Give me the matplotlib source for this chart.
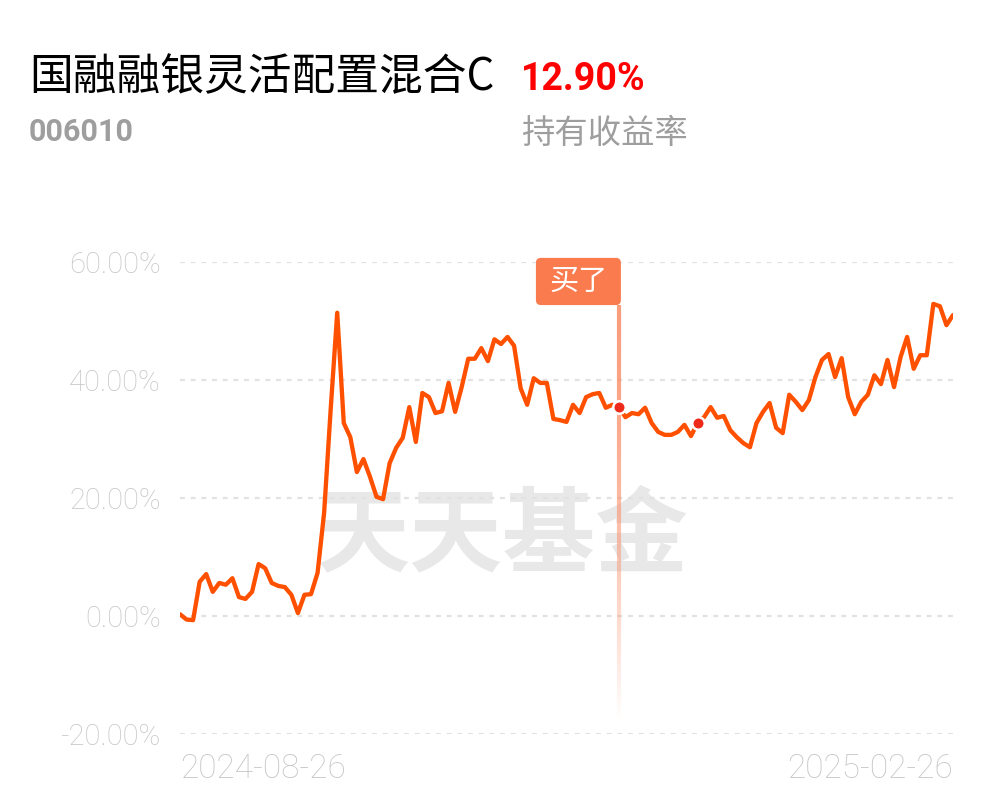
import numpy as np
import matplotlib
matplotlib.use("Agg")
import matplotlib.pyplot as plt
from matplotlib.patches import FancyBboxPatch
from matplotlib.collections import LineCollection
from matplotlib.transforms import IdentityTransform

plt.rcParams['font.family'] = ['Noto Sans CJK SC', 'DejaVu Sans']

fund_name = "国融融银灵活配置混合C"
fund_code = "006010"
hold_return = "12.90%"
hold_label = "持有收益率"
buy_label = "买了"
watermark = "天天基金"
date_labels = ["2024-08-26", "2025-02-26"]
ytick_vals = [-20, 0, 20, 40, 60]
ytick_labels = ["-20.00%", "0.00%", "20.00%", "40.00%", "60.00%"]

# 累计收益率 (%)
returns = [0.3, -0.6, -0.7, 5.8, 7.1, 4.1, 5.6, 5.3, 6.4, 3.2,
           2.9, 4.1, 8.8, 8.1, 5.6, 5.1, 4.9, 3.6, 0.5, 3.6,
           3.7, 7.3, 17.5, 35.0, 51.4, 32.7, 30.3, 24.4, 26.6, 23.6,
           20.2, 19.8, 25.9, 28.5, 30.2, 35.4, 29.5, 37.8, 37.1, 34.4,
           34.7, 39.5, 34.6, 38.8, 43.6, 43.6, 45.4, 43.2, 46.9, 46.1,
           47.3, 45.8, 38.6, 35.8, 40.3, 39.5, 39.5, 33.4, 33.2, 32.9,
           35.8, 34.4, 37.1, 37.6, 37.8, 35.3, 35.8, 35.4, 33.7, 34.4,
           34.2, 35.3, 32.7, 31.2, 30.7, 30.7, 31.2, 32.4, 30.5, 32.7,
           33.7, 35.4, 33.6, 33.9, 31.5, 30.3, 29.3, 28.6, 32.7, 34.6,
           36.1, 31.9, 31.0, 37.5, 36.3, 34.9, 36.6, 40.5, 43.4, 44.4,
           40.5, 43.7, 37.1, 34.2, 36.3, 37.5, 40.8, 39.3, 43.4, 38.8,
           43.9, 47.3, 41.9, 44.2, 44.2, 52.9, 52.5, 49.3, 51.0]
buy_points = [67, 79]

x = np.arange(len(returns))
y = np.array(returns)

W, H = 997, 802
fig = plt.figure(figsize=(W / 100, H / 100), dpi=100)
fig.set(facecolor="white")
ax = fig.add_axes([180 / W, 68 / H, 773 / W, 472 / H])

# 水印
ax.text(0.417, 0.418, watermark, transform=ax.transAxes, fontsize=67,
        fontweight="bold", color="#E8E8E8", ha="center", va="center", zorder=0.5)

for v in ytick_vals:
    ax.axhline(v, color="#E2E2E2", lw=1.6, ls=(0, (2.2, 2.6)), zorder=1)

ax.plot(x, y, color="#FF5000", lw=3.1, solid_joinstyle="round",
        solid_capstyle="round", zorder=3)

ax.set_xlim(0, len(returns) - 1)
ax.set_ylim(-20, 60)

# 买入竖线 (渐隐)
bi = buy_points[0]
y_top, y_bot = 52.7, -18.0
ys = np.linspace(y_top, y_bot, 100)
segs = [[(bi, ys[i]), (bi, ys[i + 1])] for i in range(len(ys) - 1)]
t = np.linspace(0, 1, len(segs))
alphas = np.clip(1 - t ** 1.6, 0, 1) * 0.85
cols = [(0.98, 0.55, 0.40, a) for a in alphas]
ax.add_collection(LineCollection(segs, colors=cols, linewidths=3.0, zorder=2))

ax.plot(x[buy_points], y[buy_points], "o", ms=9, mfc="#EE2A1A", mec="white",
        mew=1.8, zorder=4)

# 标签框
fig.canvas.draw()
px, py_top = ax.transData.transform((bi, 60.7))
_, py_bot = ax.transData.transform((bi, 52.7))
box = FancyBboxPatch((px - 83, py_bot), 85, py_top - py_bot,
                     boxstyle="round,pad=0,rounding_size=5",
                     transform=IdentityTransform(), facecolor="#FA7B4E",
                     edgecolor="none", zorder=5)
fig.add_artist(box)
fig.text(px - 40.5, (py_top + py_bot) / 2, buy_label, transform=IdentityTransform(),
         fontsize=21, color="white", ha="center", va="center", zorder=6)

ax.set_yticks(ytick_vals)
ax.set_yticklabels(ytick_labels, family=["Roboto", "DejaVu Sans"],
                   fontweight="light", fontsize=21, color="#C6C6C6")
ax.set_xticks([0, len(returns) - 1])
ax.set_xticklabels(date_labels, family=["Roboto", "DejaVu Sans"],
                   fontweight="light", fontsize=24, color="#C6C6C6")
xl = ax.get_xticklabels()
xl[0].set_ha("left")
xl[1].set_ha("right")
ax.tick_params(axis="y", length=0, pad=14)
ax.tick_params(axis="x", length=0, pad=14)
for s in ax.spines.values():
    s.set_visible(False)

# 标题
fig.text(29 / W, 1 - 77 / H, fund_name, fontsize=31.5, color="black",
         ha="left", va="center")
fig.text(521 / W, 1 - 79 / H, hold_return, fontsize=27, fontweight="bold",
         color="#FF0000", ha="left", va="center",
         family=["Roboto", "DejaVu Sans"])
fig.text(29 / W, 1 - 132 / H, fund_code, fontsize=22, fontweight="bold",
         color="#9E9E9E", ha="left", va="center",
         family=["Roboto", "DejaVu Sans"])
fig.text(521 / W, 1 - 134 / H, hold_label, fontsize=24, color="#9E9E9E",
         ha="left", va="center")

fig.savefig("out.png", dpi=100, facecolor="white")
